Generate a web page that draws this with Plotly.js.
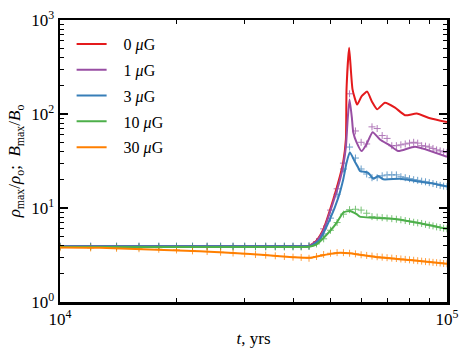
<!DOCTYPE html>
<html>
<head>
<meta charset="utf-8">
<script src="https://cdn.plot.ly/plotly-3.0.1.min.js"></script>
<style>
  html, body { margin: 0; padding: 0; background: #fff; }
  #chart { width: 473px; height: 351px; }
</style>
</head>
<body>
<div id="chart"></div>
<script>
// field strengths
var labels = ['0 <i>μ</i>G', '1 <i>μ</i>G', '3 <i>μ</i>G', '10 <i>μ</i>G', '30 <i>μ</i>G'];
var colors = ['#e41a1c', '#984ea3', '#377eb8', '#4daf4a', '#ff7f00'];

// rho_max / rho_o (lines)
var t_0 = [10000, 20000, 30000, 40000, 44000, 46000, 47900, 50800, 52900, 53900, 54800, 55000, 55860, 57000, 58600, 60200, 62200, 64000, 66000, 69100, 73400, 77900, 83500, 90400, 100000];
var rho_0 = [3.92, 3.92, 3.92, 3.92, 3.95, 4.5, 5.9, 12.2, 21.9, 30.4, 54, 183, 508, 183, 126, 155, 173, 135, 112, 132, 117, 97, 101, 90, 82];

var t_1 = [10000, 20000, 30000, 40000, 44000, 46000, 47900, 50800, 52900, 53900, 54800, 55400, 56000, 56800, 57240, 58400, 60170, 62000, 64250, 67100, 71200, 74800, 82700, 100000];
var rho_1 = [3.92, 3.92, 3.92, 3.92, 3.95, 4.4, 5.7, 11.5, 20, 28, 45, 90, 143, 90, 64, 50, 40.3, 48, 64, 53.6, 46.3, 40.3, 44.9, 35.1];

var t_3 = [10000, 20000, 30000, 40000, 44500, 46900, 49800, 52350, 53930, 55030, 56100, 57800, 58950, 59550, 62580, 64500, 66430, 68430, 75570, 83480, 92170, 100000];
var rho_3 = [3.92, 3.92, 3.92, 3.92, 3.95, 4.6, 7.55, 12.8, 20.1, 30.4, 39.3, 31, 27, 24.8, 23.7, 20.5, 21.9, 20.2, 20.5, 19.3, 18.2, 16.9];

var t_10 = [10000, 20000, 30000, 40000, 44000, 46000, 49800, 51800, 53900, 55000, 56100, 58400, 59550, 74100, 85150, 100000];
var rho_10 = [3.85, 3.85, 3.85, 3.85, 3.86, 4.1, 5.66, 6.9, 8.9, 9.2, 9.3, 8.6, 8.1, 7.6, 6.9, 6.0];

var t_30 = [10000, 12650, 22960, 31000, 37000, 40000, 44000, 47000, 50000, 53000, 56000, 60000, 66000, 80000, 100000];
var rho_30 = [3.8, 3.77, 3.47, 3.25, 3.07, 3.0, 2.95, 3.1, 3.25, 3.35, 3.3, 3.17, 3.0, 2.8, 2.55];

// B_max / B_o (+ markers), sampled every 2000 yrs
var t_B = [10000, 12000, 14000, 16000, 18000, 20000, 22000, 24000, 26000, 28000, 30000, 32000,
           34000, 36000, 38000, 40000, 42000, 44000, 46000, 48000, 50000, 52000, 54000, 56000,
           58000, 60000, 62000, 64000, 66000, 68000, 70000, 72000, 74000, 76000, 78000, 80000,
           82000, 84000, 86000, 88000, 90000, 92000, 94000, 96000, 98000, 100000];
var B_1 = [3.92, 3.92, 3.92, 3.92, 3.92, 3.92, 3.92, 3.92, 3.92, 3.92, 3.92, 3.92,
           3.92, 3.92, 3.92, 3.92, 3.92, 3.95, 4.4, 6.0, 9.5, 16, 30, 164,
           66, 50, 48, 73, 70, 59, 55, 46, 46, 47, 48, 49,
           50, 49, 46, 45.5, 44.5, 43, 41.5, 40.5, 39.5, 39];
var B_3 = [3.92, 3.92, 3.92, 3.92, 3.92, 3.92, 3.92, 3.92, 3.92, 3.92, 3.92, 3.92,
           3.92, 3.92, 3.92, 3.92, 3.92, 3.95, 4.3, 5.3, 7.8, 14, 26, 44.5,
           34, 26, 23, 21, 21, 22, 22.5, 22.5, 22.5, 21.5, 21, 20.5,
           20, 19.7, 19.3, 19, 18.6, 18.2, 17.8, 17.4, 17.1, 16.9];
var B_10 = [3.85, 3.85, 3.85, 3.85, 3.85, 3.85, 3.85, 3.85, 3.85, 3.85, 3.85, 3.85,
            3.85, 3.85, 3.85, 3.85, 3.85, 3.9, 4.15, 4.7, 5.8, 7.0, 8.6, 9.6,
            9.7, 9.5, 8.8, 8.1, 8.0, 7.9, 7.8, 7.7, 7.6, 7.5, 7.35, 7.2,
            7.05, 6.95, 6.85, 6.7, 6.55, 6.45, 6.3, 6.2, 6.1, 6.0];
var B_30 = [3.78, 3.76, 3.73, 3.69, 3.64, 3.58, 3.5, 3.44, 3.38, 3.32, 3.26, 3.2,
            3.15, 3.1, 3.05, 3.0, 2.98, 2.92, 3.05, 3.2, 3.3, 3.35, 3.35, 3.3,
            3.25, 3.18, 3.13, 3.08, 3.03, 3.0, 2.96, 2.93, 2.9, 2.87, 2.84, 2.81,
            2.78, 2.75, 2.72, 2.69, 2.67, 2.64, 2.62, 2.6, 2.57, 2.55];

var lineT = [t_0, t_1, t_3, t_10, t_30];
var lineY = [rho_0, rho_1, rho_3, rho_10, rho_30];
var markY = [null, B_1, B_3, B_10, B_30];

var traces = [];
// markers first so lines sit on top
for (var i = 0; i < 5; i++) {
    if (!markY[i]) continue;
    traces.push({
        type: 'scatter',
        x: t_B,
        y: markY[i],
        mode: 'markers',
        showlegend: false,
        hoverinfo: 'skip',
        marker: {
            symbol: 'cross-thin',
            size: 5,
            color: colors[i],
            opacity: 0.75,
            line: {color: colors[i], width: 1}
        }
    });
}
for (var i = 0; i < 5; i++) {
    traces.push({
        type: 'scatter',
        x: lineT[i],
        y: lineY[i],
        mode: 'lines',
        name: '&nbsp;&nbsp;&nbsp;' + labels[i],  // push text away from the legend line
        legendgroup: 'g' + i,
        line: {color: colors[i], width: 2, shape: 'spline', smoothing: 0.5}
    });
}

// minor tick positions (2..9 per decade)
var minorX = [], minorY = [];
for (var d = 4; d < 5; d++) for (var k = 2; k < 10; k++) minorX.push(k * Math.pow(10, d));
for (var d = 0; d < 3; d++) for (var k = 2; k < 10; k++) minorY.push(k * Math.pow(10, d));

var serif = 'Liberation Serif, DejaVu Serif, serif';

var layout = {
    width: 473,
    height: 351,
    margin: {l: 60, r: 26, t: 20, b: 49},
    paper_bgcolor: '#fff',
    plot_bgcolor: '#fff',
    font: {family: serif, size: 16, color: '#000'},
    showlegend: true,
    legend: {
        x: 0.03, y: 0.975, xanchor: 'left', yanchor: 'top',
        bgcolor: 'rgba(0,0,0,0)',
        font: {family: serif, size: 16},
        traceorder: 'grouped',
        tracegroupgap: 2
    },
    xaxis: {
        type: 'log',
        range: [4, 5],
        tickmode: 'array',
        tickvals: [1e4, 1e5],
        ticktext: ['10<sup>4</sup>', '10<sup>5</sup>'],
        ticks: 'inside', ticklen: 8, tickwidth: 1.5, tickcolor: '#000',
        minor: {tickmode: 'array', tickvals: minorX, ticks: 'inside', ticklen: 4, tickwidth: 1, tickcolor: '#000'},
        showline: true, linecolor: '#000', linewidth: 2.5, mirror: 'allticks',
        showgrid: false, zeroline: false,
        tickfont: {family: serif, size: 17},
        title: {text: '<i>t</i>, yrs', font: {family: serif, size: 17}, standoff: 4}
    },
    yaxis: {
        type: 'log',
        range: [0, 3],
        tickmode: 'array',
        tickvals: [1, 10, 100, 1000],
        ticktext: ['10<sup>0</sup>', '10<sup>1</sup>', '10<sup>2</sup>', '10<sup>3</sup>'],
        ticks: 'inside', ticklen: 8, tickwidth: 1.5, tickcolor: '#000',
        minor: {tickmode: 'array', tickvals: minorY, ticks: 'inside', ticklen: 4, tickwidth: 1, tickcolor: '#000'},
        showline: true, linecolor: '#000', linewidth: 2.5, mirror: 'allticks',
        showgrid: false, zeroline: false,
        tickfont: {family: serif, size: 17},
        title: {
            text: '<i>ρ</i><sub>max</sub>/<i>ρ</i><sub>o</sub>;  <i>B</i><sub>max</sub>/<i>B</i><sub>o</sub>',
            font: {family: serif, size: 17},
            standoff: 6
        }
    }
};

Plotly.newPlot('chart', traces, layout, {staticPlot: true});
</script>
</body>
</html>
